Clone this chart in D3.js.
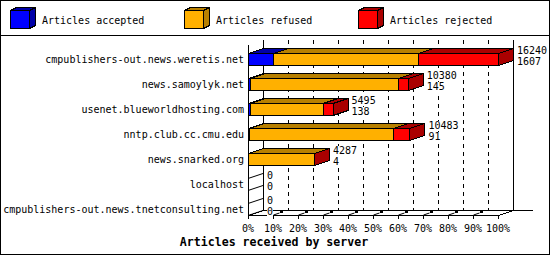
<!DOCTYPE html>
<html>
<head>
<meta charset="utf-8">
<script src="https://cdn.jsdelivr.net/npm/d3@7"></script>
<style>
  body { margin: 0; background: #fff; }
  svg { display: block; }
  text { font-family: "DejaVu Sans Mono", monospace; font-size: 10px; fill: #000; }
</style>
</head>
<body>
<div id="chart"></div>
<script>
"use strict";

var servers = ["cmpublishers-out.news.weretis.net", "news.samoylyk.net", "usenet.blueworldhosting.com",
  "nntp.club.cc.cmu.edu", "news.snarked.org", "localhost", "cmpublishers-out.news.tnetconsulting.net"];
var accepted = [1607, 145, 138, 91, 4, 0, 0];
var refused  = [9433, 9585, 4707, 9352, 4268, 0, 0];
var rejected = [5200, 650, 650, 1040, 15, 0, 0];
var seriesNames = ["Articles accepted", "Articles refused", "Articles rejected"];
var pctTicks = [0, 10, 20, 30, 40, 50, 60, 70, 80, 90, 100];

var width = 550, height = 255;
var colors = ["#0000ff", "#ffb000", "#ff0000"];
var darks  = ["#0000a8", "#b88000", "#aa0000"];
var dx = 15, dy = -5;   // depth of the 3d plot

var svg = d3.select("#chart").append("svg")
  .attr("width", width).attr("height", height)
  .attr("shape-rendering", "crispEdges");

svg.append("rect").attr("x", 0.5).attr("y", 0.5).attr("width", width - 1).attr("height", height - 1)
  .attr("fill", "#fff").attr("stroke", "#000");
svg.append("line").attr("x1", 0).attr("x2", width).attr("y1", 35.5).attr("y2", 35.5).attr("stroke", "#000");

// legend
var legX = [10, 184, 358];
seriesNames.forEach(function(name, i) {
  var g = svg.append("g").attr("transform", "translate(" + legX[i] + ",10)");
  g.append("polygon").attr("points", "0.5,0.5 6.5,-2.5 25.5,-2.5 19.5,0.5")
    .attr("fill", darks[i]).attr("stroke", "#000");
  g.append("polygon").attr("points", "19.5,0.5 25.5,-2.5 25.5,15.5 19.5,18.5")
    .attr("fill", darks[i]).attr("stroke", "#000");
  g.append("rect").attr("x", 0.5).attr("y", 0.5).attr("width", 19).attr("height", 18)
    .attr("fill", colors[i]).attr("stroke", "#000");
  g.append("text").attr("x", 32).attr("y", 14).text(name);
});

var totals = servers.map(function(d, i) { return accepted[i] + refused[i] + rejected[i]; });

var x = d3.scaleLinear().domain([0, d3.max(totals)]).range([248, 498]);
var xPct = d3.scaleLinear().domain([0, 100]).range([248, 498]);
var y = d3.scaleBand().domain(servers).range([40, 228]).paddingInner(0.52).paddingOuter(0.52);

var x0 = xPct(0), x1 = xPct(100), yFront = 215, yTop = 40;

// back wall
svg.append("line").attr("x1", x0 + dx + 0.5).attr("x2", x0 + dx + 0.5).attr("y1", yTop).attr("y2", yFront + dy)
  .attr("stroke", "#000");
svg.append("line").attr("x1", x1 + dx + 0.5).attr("x2", x1 + dx + 0.5).attr("y1", yTop).attr("y2", yFront + dy)
  .attr("stroke", "#000");
svg.append("line").attr("x1", x0 + dx).attr("x2", 533).attr("y1", yFront + dy + 0.5).attr("y2", yFront + dy + 0.5)
  .attr("stroke", "#000");
svg.selectAll("line.grid").data(pctTicks.slice(1, -1)).enter().append("line")
  .attr("class", "grid")
  .attr("x1", function(d) { return xPct(d) + dx + 0.5; })
  .attr("x2", function(d) { return xPct(d) + dx + 0.5; })
  .attr("y1", yTop).attr("y2", yFront + dy)
  .attr("stroke", "#000").attr("stroke-dasharray", "4,4");

// floor and front axis
svg.append("line").attr("x1", x0 + 0.5).attr("x2", x0 + 0.5).attr("y1", yTop + 5).attr("y2", yFront + 1)
  .attr("stroke", "#000");
svg.append("line").attr("x1", x0).attr("x2", x1 + 1).attr("y1", yFront + 0.5).attr("y2", yFront + 0.5)
  .attr("stroke", "#000");
svg.append("line").attr("x1", x0 + 0.5).attr("y1", yFront + 0.5).attr("x2", x0 + dx + 0.5).attr("y2", yFront + dy + 0.5)
  .attr("stroke", "#000");
svg.append("line").attr("x1", x1 + 0.5).attr("y1", yFront + 0.5).attr("x2", x1 + dx + 0.5).attr("y2", yFront + dy + 0.5)
  .attr("stroke", "#000");

var ticks = svg.selectAll("g.tick").data(pctTicks).enter().append("g")
  .attr("class", "tick")
  .attr("transform", function(d) { return "translate(" + xPct(d) + "," + yFront + ")"; });
ticks.append("line").attr("x1", 0.5).attr("x2", 0.5).attr("y1", 0).attr("y2", 4).attr("stroke", "#000");
ticks.filter(function(d) { return d > 0 && d < 100; }).append("line")
  .attr("x1", 0.5).attr("y1", 0).attr("x2", 6.5).attr("y2", -2).attr("stroke", "#000")
  .attr("shape-rendering", "auto");
ticks.filter(function(d) { return d > 0 && d < 100; }).append("rect")
  .attr("x", 7).attr("y", -5).attr("width", 3).attr("height", 3).attr("fill", "#000");
ticks.append("text").attr("x", 0).attr("y", 17).attr("text-anchor", "middle")
  .text(function(d) { return d + "%"; });

// bars
var series = [accepted, refused, rejected];
var labelLayer = [];
servers.forEach(function(s, i) {
  var top = y(s), bot = y(s) + y.bandwidth();
  var g = svg.append("g").attr("class", "bar");
  if (totals[i] === 0) {
    g.append("line").attr("x1", x0).attr("y1", top + 0.5).attr("x2", x0 + dx).attr("y2", top + dy + 0.5)
      .attr("stroke", "#000").attr("shape-rendering", "auto");
    g.append("line").attr("x1", x0).attr("y1", bot + 0.5).attr("x2", x0 + dx).attr("y2", bot + dy + 0.5)
      .attr("stroke", "#000").attr("shape-rendering", "auto");
  } else {
    var acc = 0, last = 0;
    series.forEach(function(vals, k) {
      var a = x(acc), b = x(acc + vals[i]);
      acc += vals[i];
      g.append("polygon")
        .attr("points", [[a + 0.5, top + 0.5], [b + 0.5, top + 0.5], [b + dx + 0.5, top + dy + 0.5], [a + dx + 0.5, top + dy + 0.5]].join(" "))
        .attr("fill", darks[k]).attr("stroke", "#000");
      g.append("rect").attr("x", a + 0.5).attr("y", top + 0.5).attr("width", Math.max(0, b - a)).attr("height", bot - top)
        .attr("fill", colors[k]).attr("stroke", "#000");
      last = b;
    });
    g.append("polygon")
      .attr("points", [[last + 0.5, top + 0.5], [last + dx + 0.5, top + dy + 0.5], [last + dx + 0.5, bot + dy + 0.5], [last + 0.5, bot + 0.5]].join(" "))
      .attr("fill", darks[2]).attr("stroke", "#000");
  }
  var lx = x(totals[i]) + dx + 4;
  var lg = svg.append("g").attr("class", "vlabel");
  var t1 = lg.append("text").attr("x", lx).attr("y", top + dy + 6).text(totals[i]);
  var t2 = lg.append("text").attr("x", lx).attr("y", top + dy + 17).text(accepted[i]);
  labelLayer.push([lg, t1, t2]);

  svg.append("text").attr("x", 244).attr("y", top + y.bandwidth() / 2 + 4)
    .attr("text-anchor", "end").text(s);
});

// white boxes behind the value labels hide the grid
labelLayer.forEach(function(l) {
  [l[1], l[2]].forEach(function(t) {
    var bb = t.node().getBBox();
    l[0].insert("rect", "text").attr("x", bb.x).attr("y", bb.y + 1).attr("width", bb.width).attr("height", bb.height - 1)
      .attr("fill", "#fff");
  });
});

svg.append("text").attr("x", 274).attr("y", 246).attr("text-anchor", "middle")
  .style("font-weight", "bold").style("font-size", "11.6px")
  .text("Articles received by server");
</script>
</body>
</html>
